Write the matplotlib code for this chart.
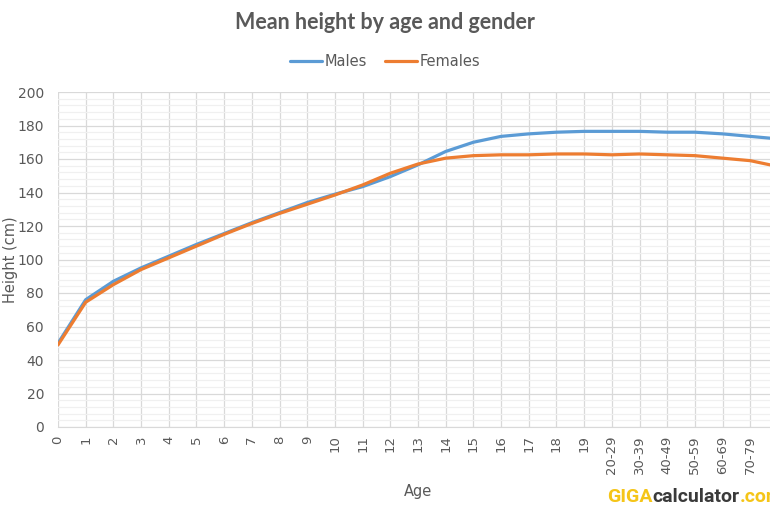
import numpy as np
import matplotlib
matplotlib.use("Agg")
import matplotlib.pyplot as plt
from matplotlib.ticker import MultipleLocator

ages = [str(a) for a in range(20)] + ["20-29", "30-39", "40-49", "50-59",
                                       "60-69", "70-79", "80+"]
males = [50, 76, 87, 95, 102, 109, 115.5, 122, 128, 134, 139, 143.5, 149.5,
         156.5, 164.5, 170, 173.5, 175, 176, 176.5, 176.5, 176.5, 176, 176,
         175, 173.5, 172]
females = [49, 74.5, 85, 94, 101, 108, 115, 121.5, 127.5, 133, 138.5, 144.5,
           151.5, 157, 160.5, 162, 162.5, 162.5, 163, 163, 162.5, 163, 162.5,
           162, 160.5, 159, 155.5]

grey = "#595959"
x = np.arange(len(ages))

fig = plt.figure(figsize=(7.7, 5.13), dpi=100)
ax = fig.add_axes([58 / 770, 86 / 513, 720 / 770, 335 / 513])

ax.plot(x, males, color="#5b9bd5", lw=2.3, label="Males", solid_capstyle="round")
ax.plot(x, females, color="#ed7d31", lw=2.3, label="Females", solid_capstyle="round")

ax.set_xlim(0, len(ages) - 1)
ax.set_ylim(0, 200)
ax.set_xticks(x)
ax.set_xticklabels(ages, rotation=90, color=grey, fontsize=9.5)
ax.yaxis.set_major_locator(MultipleLocator(20))
ax.yaxis.set_minor_locator(MultipleLocator(4))
ax.tick_params(axis="y", labelcolor=grey, labelsize=10, length=0, pad=10)
ax.tick_params(axis="y", which="minor", length=0)
ax.tick_params(axis="x", length=0, pad=6)

ax.grid(which="major", color="#d9d9d9", lw=0.9)
ax.grid(which="minor", axis="y", color="#f0f0f0", lw=0.9)
ax.set_axisbelow(True)
for s in ["top", "right", "left"]:
    ax.spines[s].set_visible(False)
ax.spines["bottom"].set_color("#d9d9d9")

ax.set_xlabel("Age", color=grey, fontsize=10.5, labelpad=7)
ax.set_ylabel("Height (cm)", color=grey, fontsize=10.5)
ax.yaxis.set_label_coords(-0.055, 0.5)

fig.text(385 / 770, 1 - 23 / 513, "Mean height by age and gender", ha="center",
         va="center", fontsize=15.5, fontweight="bold", color=grey, family="Lato")
fig.legend(loc="center", bbox_to_anchor=(385 / 770, 1 - 62 / 513), ncol=2,
           frameon=False, fontsize=10.5, labelcolor=grey, handlelength=2.2,
           handletextpad=0.2, columnspacing=1.2)

# watermark
fig.canvas.draw()
r = fig.canvas.get_renderer()
xpos = 607
for txt, col in [("GIGA", "#f5c518"), ("calculator", "#3a3a3a"), (".com", "#f5c518")]:
    t = fig.text(xpos / 770, 1 - 502 / 513, txt, color=col, fontsize=14,
                 fontweight="bold", family="Roboto", va="baseline")
    xpos += t.get_window_extent(r).width

fig.savefig("out.png", dpi=100)
